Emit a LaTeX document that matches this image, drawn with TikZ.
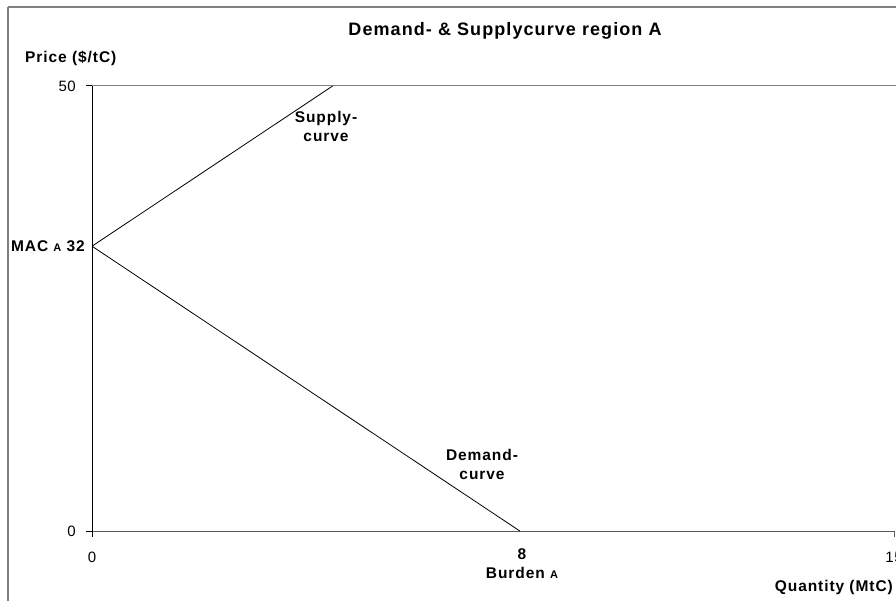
\documentclass[tikz,border=0pt]{standalone}
\usepackage{fontspec}
\setmainfont{Liberation Sans}
\begin{document}
\begin{tikzpicture}[x=1pt,y=-1pt,
  frame/.style={draw=black!50,line width=1.6pt},
  plotborder/.style={draw=black!50,line width=1pt},
  axisline/.style={draw=black,line width=1pt},
  xaxisline/.style={draw=black!65,line width=1pt},
  curve/.style={draw=black,line width=0.8pt},
  boldlbl/.style={inner sep=0pt,align=center,
    font=\fontsize{15.5}{19}\selectfont\bfseries\addfontfeature{LetterSpace=6}},
  titlelbl/.style={inner sep=0pt,
    font=\fontsize{18}{20}\selectfont\bfseries\addfontfeature{LetterSpace=6}},
  ticklbl/.style={inner sep=0pt,
    font=\fontsize{15}{17}\selectfont\addfontfeature{LetterSpace=4}}
]
\useasboundingbox (0,0) rectangle (896,601);
\fill[white] (0,0) rectangle (896,601);

% outer chart frame
\draw[frame] (8,7) -- (8,610);
\draw[frame] (8,7) -- (905,7);

% axis reference points (quantity 0..15 -> 92..894, price 0..50 -> 531..86)
\coordinate (origin) at (92,531);
\coordinate (ytop) at (92,86);
\coordinate (xend) at (894,531);
\coordinate (mac) at (92,246.2);
\coordinate (sup) at (332.6,86);
\coordinate (dem) at (519.8,531);

% plot area border and axes
\draw[plotborder] (ytop) -- (905,86);
\draw[xaxisline] (origin) -- (xend);
\draw[axisline] (origin) -- (ytop);

% tick marks
\draw[axisline] (86,86) -- (ytop);
\draw[axisline] (86,531) -- (origin);
\draw[axisline] (origin) -- (92,537);
\draw[xaxisline] (xend) -- (894,537);

% supply and demand curves
\draw[curve] (mac) -- (sup);
\draw[curve] (mac) -- (dem);

% texts
\node[titlelbl] (title) at (505,31) {Demand- \& Supplycurve region A};
\node[boldlbl,anchor=west] (ylabel) at (25,58.5) {Price (\$/tC)};
\node[boldlbl,anchor=east] (maclbl) at (85,246)
  {MAC {\fontsize{11}{11}\selectfont A} 32};
\node[ticklbl,anchor=east] (y50) at (76,86) {50};
\node[ticklbl,anchor=east] (y0) at (76,531) {0};
\node[ticklbl] (x0) at (92,557) {0};
\node[ticklbl] (x15) at (894,557) {15};
\node[boldlbl] (burden) at (522,564)
  {8\\Burden {\fontsize{11}{11}\selectfont A}};
\node[boldlbl,anchor=east] (xlabel) at (893,587) {Quantity (MtC)};
\node[boldlbl] (suplbl) at (326,126) {Supply-\\curve};
\node[boldlbl] (demlbl) at (482,464) {Demand-\\curve};
\end{tikzpicture}
\end{document}
